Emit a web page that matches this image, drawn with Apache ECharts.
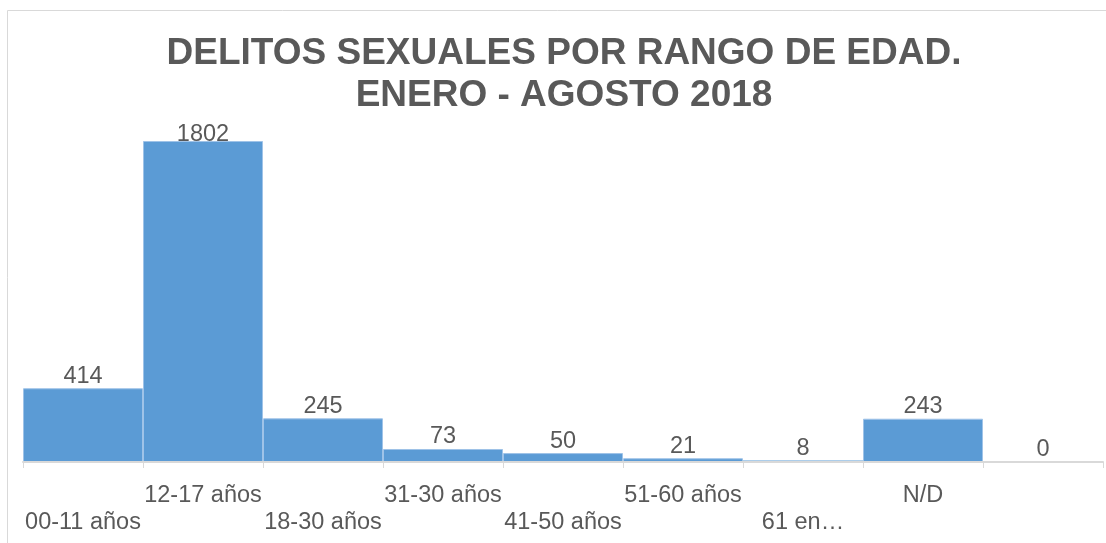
<!DOCTYPE html>
<html>
<head>
<meta charset="utf-8">
<script src="https://cdn.jsdelivr.net/npm/echarts@6/dist/echarts.min.js"></script>
<style>
  html, body { margin: 0; padding: 0; background: #fff; }
  #chart { width: 1106px; height: 543px; }
</style>
</head>
<body>
<div id="chart"></div>
<script>
var categories = ['00-11 años', '12-17 años', '18-30 años', '31-30 años', '41-50 años', '51-60 años', '61 en…', 'N/D', ''];
var values = [414, 1802, 245, 73, 50, 21, 8, 243, 0];

var textGray = '#595959';
var lineGray = '#d9d9d9';

var myChart = echarts.init(document.getElementById('chart'));

var option = {
    animation: false,
    textStyle: {
        fontFamily: 'Liberation Sans, Arial, sans-serif'
    },
    title: {
        text: 'DELITOS SEXUALES POR RANGO DE EDAD.\nENERO - AGOSTO 2018',
        left: 559,
        top: 28,
        textAlign: 'center',
        textStyle: {
            color: textGray,
            fontSize: 37,
            fontWeight: 'bold',
            lineHeight: 42,
            fontFamily: 'Liberation Sans, Arial, sans-serif'
        }
    },
    graphic: [{
        type: 'rect',
        shape: { x: 7.5, y: 10.5, width: 1120, height: 560 },
        style: { fill: 'none', stroke: lineGray, lineWidth: 1 },
        silent: true
    }],
    grid: {
        left: 23,
        right: 3,
        top: 141,
        bottom: 81
    },
    xAxis: {
        type: 'category',
        data: categories,
        z: 5,
        axisLine: { show: true, lineStyle: { color: lineGray, width: 2 } },
        axisTick: { show: true, length: 6, lineStyle: { color: lineGray } },
        axisLabel: {
            interval: 0,
            color: textGray,
            fontSize: 23.5,
            lineHeight: 27,
            margin: 20,
            formatter: function (v, i) {
                return i % 2 === 0 ? '\n' + v : v;
            }
        }
    },
    yAxis: {
        type: 'value',
        min: 0,
        max: 'dataMax',
        show: false,
        splitLine: { show: false }
    },
    series: [{
        type: 'bar',
        barCategoryGap: '0%',
        itemStyle: {
            color: '#5b9bd5',
            borderColor: '#9fc3e8',
            borderWidth: 1
        },
        label: {
            show: true,
            position: 'top',
            distance: 0,
            color: textGray,
            fontSize: 23.5
        },
        data: values.map(function (v) {
            var item = { value: v };
            if (v === Math.max.apply(null, values)) {
                item.label = { distance: -6 };
            }
            if (v < 10) {
                item.itemStyle = { borderWidth: 0 };
            }
            return item;
        })
    }]
};

myChart.setOption(option);
</script>
</body>
</html>
